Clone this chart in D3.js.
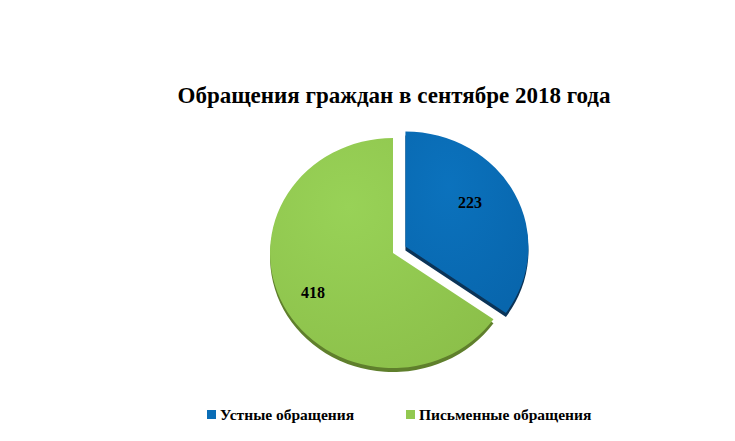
<!DOCTYPE html>
<html>
<head>
<meta charset="utf-8">
<script src="https://cdn.jsdelivr.net/npm/d3@7"></script>
<style>
  body { margin: 0; background: #fff; }
  text { font-family: "Liberation Serif", "Times New Roman", serif; font-weight: bold; }
</style>
</head>
<body>
<div id="chart"></div>
<script>
// Data
const categories = ["Устные обращения", "Письменные обращения"];
const values = [223, 418];
const colors = ["#0a6db6", "#92c850"];
const darkColors = ["#0b3458", "#5f7f2c"];
const title = "Обращения граждан в сентябре 2018 года";

const width = 735;
const height = 441;

const svg = d3.select("#chart")
    .append("svg")
    .attr("width", width)
    .attr("height", height);

const defs = svg.append("defs");

// Soft gradients to mimic the shaded 3D look
function createGradient(id, c1, c2) {
    const g = defs.append("radialGradient")
        .attr("id", id)
        .attr("cx", "35%").attr("cy", "30%").attr("r", "80%");
    g.append("stop").attr("offset", "0%").attr("stop-color", c1);
    g.append("stop").attr("offset", "100%").attr("stop-color", c2);
}
createGradient("grad-0", "#0b72bd", "#0866ad");
createGradient("grad-1", "#98d257", "#8cc04a");

// Title
svg.append("text")
    .attr("x", 394)
    .attr("y", 103)
    .attr("text-anchor", "middle")
    .attr("font-size", "23px")
    .attr("fill", "#000")
    .text(title);

// Pie layout
const cx = 393, cy = 253;
const rx = 123, ry = 115;
const explode = 14;
const depth = 4;

const pie = d3.pie().sort(null).value(d => d)(values);
const arc = d3.arc().innerRadius(0).outerRadius(1);

const g = svg.append("g")
    .attr("transform", `translate(${cx}, ${cy}) scale(${rx}, ${ry})`);

const slices = g.selectAll(".slice")
    .data(pie)
    .enter().append("g")
    .attr("class", "slice")
    .attr("transform", (d, i) => {
        if (i !== 0) return null;
        const mid = (d.startAngle + d.endAngle) / 2;
        return `translate(${Math.sin(mid) * explode / rx}, ${-Math.cos(mid) * explode / ry})`;
    });

// Depth (dark edge below each slice)
slices.append("path")
    .attr("d", arc)
    .attr("transform", `translate(0, ${depth / ry})`)
    .attr("fill", (d, i) => darkColors[i]);

// Top face
slices.append("path")
    .attr("d", arc)
    .attr("fill", (d, i) => `url(#grad-${i})`);

// Value labels
const labelPos = [[470, 202], [313, 292]];
svg.selectAll(".value-label")
    .data(values)
    .enter().append("text")
    .attr("class", "value-label")
    .attr("x", (d, i) => labelPos[i][0])
    .attr("y", (d, i) => labelPos[i][1] + 6)
    .attr("text-anchor", "middle")
    .attr("font-size", "16px")
    .attr("fill", "#000")
    .text(d => d);

// Legend
const legendX = [207, 406];
const legend = svg.selectAll(".legend")
    .data(categories)
    .enter().append("g")
    .attr("class", "legend")
    .attr("transform", (d, i) => `translate(${legendX[i]}, 414)`);

legend.append("rect")
    .attr("x", 0)
    .attr("y", -4)
    .attr("width", 9)
    .attr("height", 9)
    .attr("fill", (d, i) => colors[i]);

legend.append("text")
    .attr("x", 13)
    .attr("y", 6)
    .attr("font-size", "15.5px")
    .attr("fill", "#000")
    .text(d => d);
</script>
</body>
</html>
